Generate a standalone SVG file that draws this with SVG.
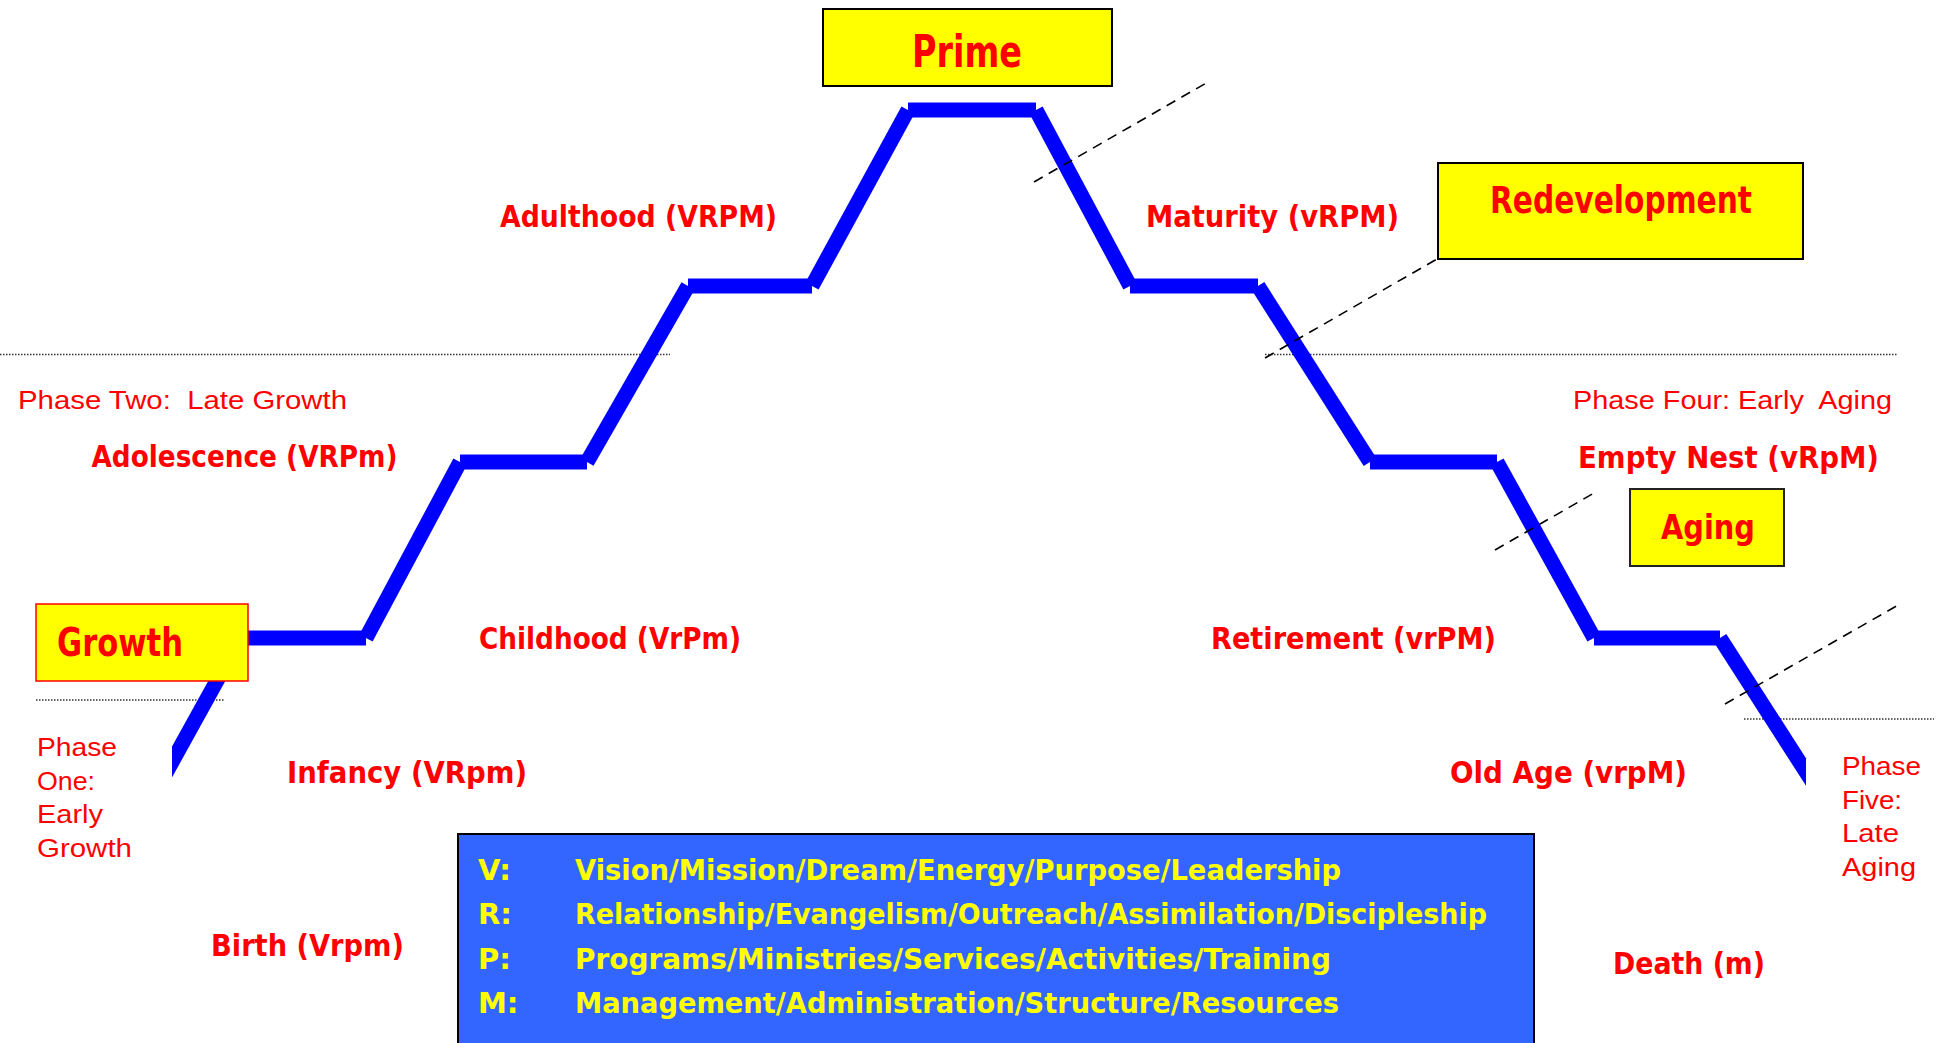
<svg xmlns="http://www.w3.org/2000/svg" width="1944" height="1043" viewBox="0 0 1944 1043">
<style>
.lbl{font-family:"DejaVu Sans","Liberation Sans",sans-serif;font-weight:bold;fill:#FF0000;font-size:31px}
.box{fill:#FFFF00;stroke:#000;stroke-width:2}
.ttl{font-family:"DejaVu Sans","Liberation Sans",sans-serif;font-weight:bold;fill:#FF0000}
.ph{font-family:"Liberation Sans",Arial,sans-serif;fill:#FF0000;font-size:25px;white-space:pre}
.leg{font-family:"DejaVu Sans","Liberation Sans",sans-serif;font-weight:bold;fill:#FFFF00;font-size:29px}
.blue{stroke:#0000FF;stroke-width:15;stroke-linecap:butt;fill:none}
.dash{stroke:#000;stroke-width:1.6;stroke-dasharray:10 7;fill:none}
.dot{stroke:#333;stroke-width:1.5;stroke-dasharray:1.5 1.5;fill:none}
</style>
<rect width="1944" height="1043" fill="#FFFFFF"/>
<g id="connectors">
  <g id="dotted">
    <line class="dot" x1="0" y1="354.5" x2="670" y2="354.5"/>
    <line class="dot" x1="1265" y1="354.5" x2="1897" y2="354.5"/>
    <line class="dot" x1="36" y1="700" x2="225" y2="700"/>
    <line class="dot" x1="1744" y1="719" x2="1934" y2="719"/>
  </g>
  <g id="lifecycle">
    <polygon points="172,746.5 172,777.5 251.6,633.6 238.4,626.4" fill="#0000FF"/>
    <line class="blue" x1="230" y1="638" x2="366" y2="638"/>
    <line class="blue" x1="366" y1="638" x2="460" y2="462"/>
    <line class="blue" x1="460" y1="462" x2="587" y2="462"/>
    <line class="blue" x1="587" y1="462" x2="688" y2="286"/>
    <line class="blue" x1="688" y1="286" x2="812" y2="286"/>
    <line class="blue" x1="812" y1="286" x2="908" y2="110"/>
    <line class="blue" x1="908" y1="110" x2="1036" y2="110"/>
    <line class="blue" x1="1036" y1="110" x2="1130" y2="286"/>
    <line class="blue" x1="1130" y1="286" x2="1258" y2="286"/>
    <line class="blue" x1="1258" y1="286" x2="1370" y2="462"/>
    <line class="blue" x1="1370" y1="462" x2="1497" y2="462"/>
    <line class="blue" x1="1497" y1="462" x2="1594" y2="638"/>
    <line class="blue" x1="1594" y1="638" x2="1720" y2="638"/>
    <polygon points="1726.3,634 1713.7,642 1806,785.8 1806,758.2" fill="#0000FF"/>
  </g>
  <g id="dashed">
    <line class="dash" x1="1034" y1="182" x2="1208" y2="82"/>
    <line class="dash" x1="1265" y1="358" x2="1437" y2="259"/>
    <line class="dash" x1="1495" y1="550" x2="1594" y2="493"/>
    <line class="dash" x1="1725" y1="704" x2="1900" y2="604"/>
  </g>
</g>
<g id="prime">
  <rect class="box" x="823" y="9" width="289" height="77"/>
  <text class="ttl" x="912" y="67" font-size="44" textLength="110" lengthAdjust="spacingAndGlyphs">Prime</text>
</g>
<g id="redevelopment">
  <rect class="box" x="1438" y="163" width="365" height="96"/>
  <text class="ttl" x="1490" y="213" font-size="37" textLength="262" lengthAdjust="spacingAndGlyphs">Redevelopment</text>
</g>
<g id="aging">
  <rect class="box" x="1630" y="489" width="154" height="77" style="stroke:#222"/>
  <text class="ttl" x="1661" y="539" font-size="34" textLength="94" lengthAdjust="spacingAndGlyphs">Aging</text>
</g>
<g id="growth">
  <rect x="36" y="604" width="212" height="77" fill="#FFFF00" stroke="#FF0000" stroke-width="1.5"/>
  <text class="ttl" x="57" y="656" font-size="39" textLength="126" lengthAdjust="spacingAndGlyphs">Growth</text>
</g>
<g id="stages">
  <text id="adulthood" class="lbl" x="500" y="227" textLength="277" lengthAdjust="spacingAndGlyphs">Adulthood (VRPM)</text>
  <text id="maturity" class="lbl" x="1146" y="227" textLength="253" lengthAdjust="spacingAndGlyphs">Maturity (vRPM)</text>
  <text id="adolescence" class="lbl" x="91.5" y="467" textLength="306" lengthAdjust="spacingAndGlyphs">Adolescence (VRPm)</text>
  <text id="childhood" class="lbl" x="479" y="649" textLength="262" lengthAdjust="spacingAndGlyphs">Childhood (VrPm)</text>
  <text id="infancy" class="lbl" x="287" y="783" textLength="240" lengthAdjust="spacingAndGlyphs">Infancy (VRpm)</text>
  <text id="birth" class="lbl" x="211" y="956" textLength="193" lengthAdjust="spacingAndGlyphs">Birth (Vrpm)</text>
  <text id="emptynest" class="lbl" x="1578" y="468" textLength="301" lengthAdjust="spacingAndGlyphs">Empty Nest (vRpM)</text>
  <text id="retirement" class="lbl" x="1211" y="649" textLength="285" lengthAdjust="spacingAndGlyphs">Retirement (vrPM)</text>
  <text id="oldage" class="lbl" x="1450" y="783" textLength="237" lengthAdjust="spacingAndGlyphs">Old Age (vrpM)</text>
  <text id="death" class="lbl" x="1613" y="974" textLength="152" lengthAdjust="spacingAndGlyphs">Death (m)</text>
</g>
<g id="phases">
  <text id="phase-two" class="ph" x="18" y="409" textLength="329" lengthAdjust="spacingAndGlyphs">Phase Two:  Late Growth</text>
  <text id="phase-four" class="ph" x="1573" y="409" textLength="319" lengthAdjust="spacingAndGlyphs">Phase Four: Early  Aging</text>
  <g id="phase-one">
    <text class="ph" x="37" y="756" textLength="80" lengthAdjust="spacingAndGlyphs">Phase</text>
    <text class="ph" x="37" y="790" textLength="58" lengthAdjust="spacingAndGlyphs">One:</text>
    <text class="ph" x="37" y="823" textLength="66" lengthAdjust="spacingAndGlyphs">Early</text>
    <text class="ph" x="37" y="857" textLength="95" lengthAdjust="spacingAndGlyphs">Growth</text>
  </g>
  <g id="phase-five">
    <text class="ph" x="1842" y="775" textLength="79" lengthAdjust="spacingAndGlyphs">Phase</text>
    <text class="ph" x="1842" y="809" textLength="60" lengthAdjust="spacingAndGlyphs">Five:</text>
    <text class="ph" x="1842" y="842" textLength="57" lengthAdjust="spacingAndGlyphs">Late</text>
    <text class="ph" x="1842" y="876" textLength="74" lengthAdjust="spacingAndGlyphs">Aging</text>
  </g>
</g>
<g id="legend">
  <rect x="458" y="834" width="1076" height="215" fill="#3366FF" stroke="#000" stroke-width="2"/>
  <text class="leg" x="478" y="880">V:</text>
  <text class="leg" x="575" y="880" textLength="766" lengthAdjust="spacingAndGlyphs">Vision/Mission/Dream/Energy/Purpose/Leadership</text>
  <text class="leg" x="478" y="924">R:</text>
  <text class="leg" x="575" y="924" textLength="912" lengthAdjust="spacingAndGlyphs">Relationship/Evangelism/Outreach/Assimilation/Discipleship</text>
  <text class="leg" x="478" y="969">P:</text>
  <text class="leg" x="575" y="969" textLength="756" lengthAdjust="spacingAndGlyphs">Programs/Ministries/Services/Activities/Training</text>
  <text class="leg" x="478" y="1013">M:</text>
  <text class="leg" x="575" y="1013" textLength="764" lengthAdjust="spacingAndGlyphs">Management/Administration/Structure/Resources</text>
</g>
</svg>
